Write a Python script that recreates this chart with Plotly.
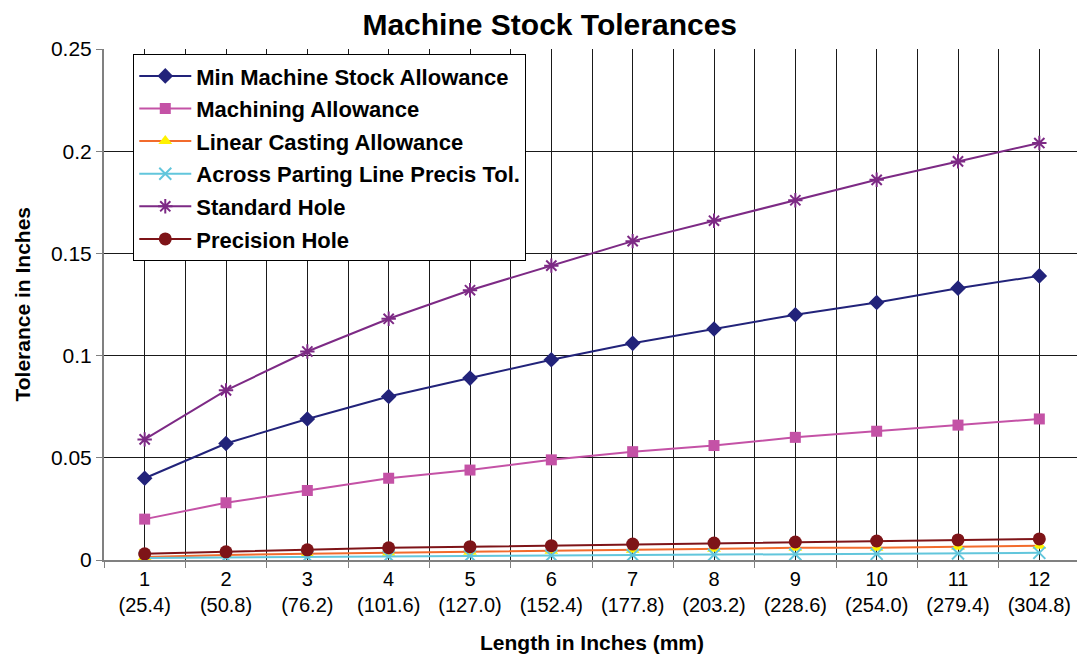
import plotly.graph_objects as go

# Data
lengths = list(range(1, 13))
tick_text = ["1<br>(25.4)", "2<br>(50.8)", "3<br>(76.2)", "4<br>(101.6)", "5<br>(127.0)", "6<br>(152.4)",
             "7<br>(177.8)", "8<br>(203.2)", "9<br>(228.6)", "10<br>(254.0)", "11<br>(279.4)", "12<br>(304.8)"]

min_machine_stock = [0.040, 0.057, 0.069, 0.080, 0.089, 0.098, 0.106, 0.113, 0.120, 0.126, 0.133, 0.139]
machining_allow = [0.020, 0.028, 0.034, 0.040, 0.044, 0.049, 0.053, 0.056, 0.060, 0.063, 0.066, 0.069]
linear_casting = [0.0015, 0.0025, 0.003, 0.0035, 0.004, 0.0045, 0.005, 0.0055, 0.006, 0.006, 0.0065, 0.007]
parting_line = [0.001, 0.0013, 0.0015, 0.0017, 0.002, 0.0022, 0.0024, 0.0026, 0.0028, 0.003, 0.0032, 0.0035]
standard_hole = [0.059, 0.083, 0.102, 0.118, 0.132, 0.144, 0.156, 0.166, 0.176, 0.186, 0.195, 0.204]
precision_hole = [0.003, 0.004, 0.005, 0.006, 0.0065, 0.007, 0.0078, 0.0083, 0.0088, 0.0093, 0.0098, 0.0103]

FONT = "Liberation Sans, Arial, sans-serif"
GRID = "#1a1a1a"
AXIS = "#808080"

series = [
    ("Min Machine Stock Allowance", min_machine_stock, "#22237A",
     dict(symbol="diamond", size=12, color="#22237A")),
    ("Machining Allowance", machining_allow, "#C452A6",
     dict(symbol="square", size=11, color="#C452A6")),
    ("Linear Casting Allowance", linear_casting, "#F26B2C",
     dict(symbol="triangle-up", size=12, color="#FFF200")),
    ("Across Parting Line Precis Tol.", parting_line, "#62C6DC",
     dict(symbol="x-thin-open", size=12, line=dict(width=2, color="#62C6DC"))),
    ("Standard Hole", standard_hole, "#7D2A85",
     dict(symbol="asterisk-open", size=12, line=dict(width=2, color="#7D2A85"))),
    ("Precision Hole", precision_hole, "#7E1418",
     dict(symbol="circle", size=13, color="#7E1418")),
]

fig = go.Figure()
for i, (name, vals, col, mk) in enumerate(series):
    fig.add_trace(go.Scatter(
        x=lengths, y=vals, name=f"<b>{name}</b>", mode="lines+markers",
        line=dict(color=col, width=2), marker=mk, legendgroup=f"g{i}",
    ))

# page body has an 8px margin, so the figure is sized to fit inside the window
fig.update_layout(
    width=1077, height=647,
    paper_bgcolor="white", plot_bgcolor="white",
    margin=dict(l=96, r=5, t=41, b=95, autoexpand=False),
    font=dict(family=FONT, size=20, color="black"),
    title=dict(text="<b>Machine Stock Tolerances</b>", xref="container", x=0.503, xanchor="center",
               yref="container", y=1 - 16 / 647, yanchor="middle",
               font=dict(size=30, family=FONT)),
    showlegend=True,
    legend=dict(x=0.03, y=0.99, xanchor="left", yanchor="top",
                bgcolor="white", bordercolor="black", borderwidth=1,
                font=dict(size=22, family=FONT), tracegroupgap=1,
                traceorder="grouped", itemwidth=52),
)
fig.update_xaxes(
    range=[0.5, 12.5], tickvals=lengths, ticktext=tick_text, ticks="",
    showgrid=True, gridcolor=GRID, gridwidth=1,
    showline=True, linecolor=AXIS, linewidth=2, zeroline=False,
    tickfont=dict(size=20),
    minor=dict(tick0=0.5, dtick=1, ticks="outside", ticklen=6, tickcolor=AXIS,
               showgrid=True, gridcolor=GRID, gridwidth=1),
    title=dict(text="<b>Length in Inches (mm)</b>", standoff=20, font=dict(size=21)),
)
fig.update_yaxes(
    range=[0, 0.25], dtick=0.05, tickformat="~g", ticks="outside", ticklen=6, tickcolor=AXIS,
    showgrid=True, gridcolor=GRID, gridwidth=1,
    showline=True, linecolor=AXIS, linewidth=2, zeroline=False,
    tickfont=dict(size=21),
)
fig.add_annotation(text="<b>Tolerance in Inches</b>", textangle=-90, showarrow=False,
                   xref="paper", yref="paper", x=-0.084, y=0.5, xanchor="center", yanchor="middle",
                   font=dict(size=21, family=FONT))
fig.add_shape(type="line", xref="paper", yref="paper", x0=1, x1=1, y0=0, y1=1,
              line=dict(color=GRID, width=1))

fig.write_html("out.html")
